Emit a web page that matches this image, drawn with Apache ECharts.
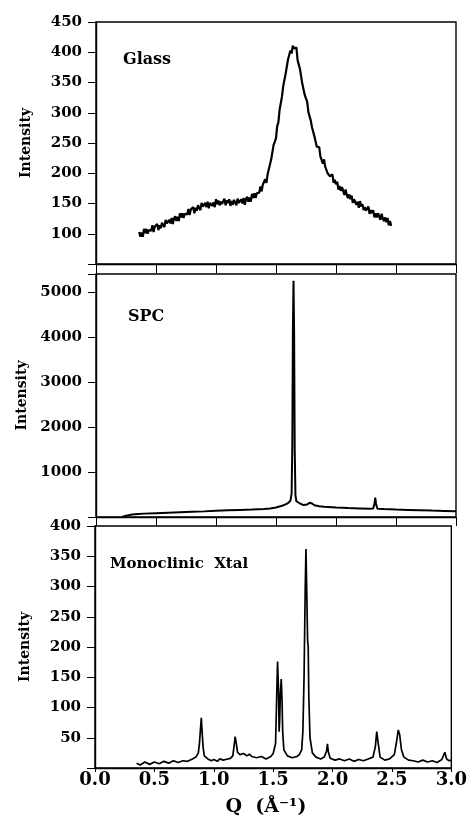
<!DOCTYPE html>
<html>
<head>
<meta charset="utf-8">
<script src="https://cdn.jsdelivr.net/npm/echarts@6/dist/echarts.min.js"></script>
<style>html,body{margin:0;padding:0;background:#fff}#c{width:470px;height:823px}</style>
</head>
<body>
<div id="c"></div>
<script>
// ---- Data ----
const xTicks = ['0.0','0.5','1.0','1.5','2.0','2.5','3.0'];
const panelLabels = ['Glass','SPC','Monoclinic  Xtal'];

const glassQ = [
0.36,0.37,0.38,0.39,0.40,0.41,0.42,0.43,0.44,0.45,
0.46,0.47,0.48,0.49,0.50,0.51,0.52,0.53,0.54,0.55,
0.56,0.57,0.58,0.59,0.60,0.61,0.62,0.63,0.64,0.65,
0.66,0.67,0.68,0.69,0.70,0.71,0.72,0.73,0.74,0.75,
0.76,0.77,0.78,0.79,0.80,0.81,0.82,0.83,0.84,0.85,
0.86,0.87,0.88,0.89,0.90,0.91,0.92,0.93,0.94,0.95,
0.96,0.97,0.98,0.99,1.00,1.01,1.02,1.03,1.04,1.05,
1.06,1.07,1.08,1.09,1.10,1.11,1.12,1.13,1.14,1.15,
1.16,1.17,1.18,1.19,1.20,1.21,1.22,1.23,1.24,1.25,
1.26,1.27,1.28,1.29,1.30,1.31,1.32,1.33,1.34,1.35,
1.36,1.37,1.38,1.39,1.40,1.41,1.42,1.43,1.44,1.45,
1.46,1.47,1.48,1.49,1.50,1.51,1.52,1.53,1.54,1.55,
1.56,1.57,1.58,1.59,1.60,1.61,1.62,1.63,1.64,1.65,
1.66,1.67,1.68,1.69,1.70,1.71,1.72,1.73,1.74,1.75,
1.76,1.77,1.78,1.79,1.80,1.81,1.82,1.83,1.84,1.85,
1.86,1.87,1.88,1.89,1.90,1.91,1.92,1.93,1.94,1.95,
1.96,1.97,1.98,1.99,2.00,2.01,2.02,2.03,2.04,2.05,
2.06,2.07,2.08,2.09,2.10,2.11,2.12,2.13,2.14,2.15,
2.16,2.17,2.18,2.19,2.20,2.21,2.22,2.23,2.24,2.25,
2.26,2.27,2.28,2.29,2.30,2.31,2.32,2.33,2.34,2.35,
2.36,2.37,2.38,2.39,2.40,2.41,2.42,2.43,2.44,2.45,2.46];
const glassI = [
103,95,102,95,108,101,108,100,106,103,
105,114,103,112,109,116,106,114,109,118,
118,111,123,117,114,123,117,126,116,125,
129,121,128,121,134,127,134,126,133,130,
132,141,131,140,137,144,134,143,138,147,
146,139,151,145,142,151,144,153,142,151,
154,146,152,144,157,149,155,147,153,149,
150,158,147,155,151,157,146,154,148,156,
155,147,158,151,148,157,150,159,148,157,
161,153,160,153,166,159,167,159,167,165,
168,178,170,181,180,190,184,198,199,215,
223,225,247,252,258,278,284,305,306,327,
344,345,364,364,388,387,403,398,411,406,
404,408,387,388,372,370,347,347,329,329,
318,301,303,287,276,276,261,262,244,246,
243,228,229,216,223,211,213,200,202,195,
193,198,184,189,182,186,173,179,171,177,
174,164,173,164,159,165,157,163,151,157,
159,148,153,143,154,145,149,139,144,138,
138,145,133,139,134,139,127,134,127,134,
132,123,133,125,121,127,119,126,114,121,113];

const spcQ = [0.22,0.26,0.30,0.35,0.40,0.50,0.60,0.70,0.80,0.90,1.00,1.10,1.20,1.30,1.40,1.45,1.50,1.55,1.58,1.60,1.62,1.630,1.636,1.641,1.646,1.651,1.656,1.662,1.67,1.70,1.73,1.76,1.78,1.80,1.82,1.86,1.90,2.00,2.10,2.20,2.28,2.31,2.32,2.327,2.334,2.345,2.40,2.50,2.60,2.70,2.80,2.90,3.00];
const spcI = [5,35,55,68,75,85,95,105,115,125,140,150,158,166,180,190,210,250,280,310,360,520,1600,4200,5250,4100,1500,480,350,300,265,280,315,300,262,240,228,212,200,190,182,190,290,430,290,185,176,165,158,150,142,136,130];

const xtalQ = [0.35,0.38,0.42,0.46,0.50,0.54,0.58,0.62,0.66,0.70,0.74,0.78,0.82,0.85,0.87,0.88,0.89,0.895,0.90,0.91,0.92,0.95,0.98,1.00,1.03,1.05,1.08,1.10,1.14,1.16,1.17,1.18,1.19,1.20,1.22,1.25,1.28,1.30,1.32,1.36,1.40,1.44,1.48,1.50,1.52,1.53,1.537,1.545,1.55,1.555,1.56,1.568,1.575,1.58,1.59,1.62,1.66,1.70,1.72,1.74,1.75,1.76,1.77,1.776,1.782,1.79,1.795,1.80,1.81,1.83,1.86,1.90,1.93,1.95,1.957,1.965,1.98,2.02,2.06,2.10,2.14,2.18,2.22,2.26,2.30,2.34,2.36,2.372,2.385,2.40,2.44,2.48,2.52,2.54,2.553,2.565,2.58,2.60,2.64,2.68,2.72,2.76,2.80,2.84,2.88,2.92,2.945,2.96,2.98,3.00];
const xtalI = [8,5,10,6,10,7,11,8,12,9,12,11,15,18,25,42,70,83,65,35,20,15,12,14,11,15,13,14,16,20,35,52,40,26,22,24,20,23,19,17,19,15,19,24,40,120,176,130,60,80,120,147,110,60,30,20,17,19,22,30,60,150,300,362,300,210,200,120,50,25,18,15,18,28,40,26,16,13,15,12,15,11,14,12,15,18,35,60,40,18,13,15,22,45,63,55,30,18,13,12,10,13,10,12,9,14,26,15,12,13];

// ---- Build ----
const pairs = (q, v) => q.map((x, i) => [x, v[i]]);
const FONT = '"DejaVu Serif", serif';
const grids = [
  {left: 96, top: 22, width: 360, height: 242},
  {left: 96, top: 274, width: 360, height: 243},
  {left: 95, top: 526, width: 358, height: 242}
];
const yRanges = [
  {min: 50, max: 450, interval: 50, hide: [50]},
  {min: 0, max: 5400, interval: 1000, hide: [0]},
  {min: 0, max: 400, interval: 50, hide: [0]}
];

const chart = echarts.init(document.getElementById('c'), null, {renderer: 'canvas'});
const option = {
  animation: false,
  backgroundColor: '#fff',
  grid: grids.map(g => Object.assign({show: true, borderColor: '#000', borderWidth: 1.4, backgroundColor: 'transparent'}, g)),
  xAxis: [0, 1, 2].map(i => ({
    type: 'value', gridIndex: i, min: 0, max: 3, interval: 0.5,
    axisLine: {show: true, lineStyle: {color: '#000', width: 1.4}},
    axisTick: i < 2 ? {show: true, inside: false, length: 9, lineStyle: {color: '#000', width: 1}}
                    : {show: true, inside: false, length: 4, lineStyle: {color: '#000', width: 1}},
    splitLine: {show: false},
    axisLabel: i < 2 ? {show: false} : {
      show: true, margin: 3, color: '#000',
      fontFamily: FONT, fontWeight: 'bold', fontSize: 18,
      formatter: v => xTicks[Math.round(v / 0.5)]
    }
  })),
  yAxis: [0, 1, 2].map(i => ({
    type: 'value', gridIndex: i,
    min: yRanges[i].min, max: yRanges[i].max, interval: yRanges[i].interval,
    axisLine: {show: true, lineStyle: {color: '#000', width: 1.4}},
    axisTick: {show: true, inside: false, length: 8, lineStyle: {color: '#000', width: 1}},
    splitLine: {show: false},
    axisLabel: {
      show: true, margin: 14, color: '#000',
      fontFamily: FONT, fontWeight: 'bold', fontSize: 15,
      formatter: v => (yRanges[i].hide.indexOf(v) >= 0 || (i === 1 && v > 5000)) ? '' : String(v)
    },
    name: 'Intensity', nameLocation: 'middle', nameGap: 63, nameRotate: 90,
    nameTextStyle: {color: '#000', fontFamily: FONT, fontWeight: 'bold', fontSize: 14}
  })),
  series: [
    {type: 'line', xAxisIndex: 0, yAxisIndex: 0, data: pairs(glassQ, glassI), showSymbol: false,
     lineStyle: {color: '#000', width: 2.2}},
    {type: 'line', xAxisIndex: 1, yAxisIndex: 1, data: pairs(spcQ, spcI), showSymbol: false,
     lineStyle: {color: '#000', width: 2}},
    {type: 'line', xAxisIndex: 2, yAxisIndex: 2, data: pairs(xtalQ, xtalI), showSymbol: false,
     lineStyle: {color: '#000', width: 1.7}}
  ],
  graphic: [
    {type: 'text', x: 123, y: 60, style: {text: panelLabels[0], font: 'bold 16px ' + FONT, fill: '#000', verticalAlign: 'middle'}},
    {type: 'text', x: 128, y: 317, style: {text: panelLabels[1], font: 'bold 16px ' + FONT, fill: '#000', verticalAlign: 'middle'}},
    {type: 'text', x: 110, y: 564, style: {text: panelLabels[2], font: 'bold 15px ' + FONT, fill: '#000', verticalAlign: 'middle'}},
    {type: 'text', x: 266, y: 807, style: {text: 'Q  (Å\u207B\u00B9)', font: 'bold 19px ' + FONT, fill: '#000', align: 'center', verticalAlign: 'middle'}}
  ]
};
chart.setOption(option);
</script>
</body>
</html>
